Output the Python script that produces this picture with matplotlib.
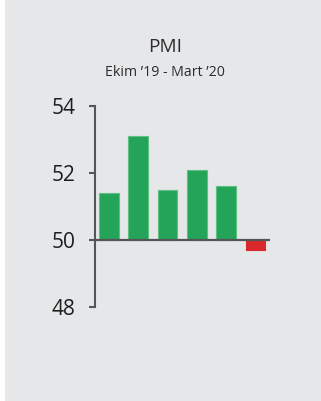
import matplotlib
matplotlib.use("Agg")
import matplotlib.pyplot as plt
from matplotlib.patches import Rectangle

months = ["Ekim", "Kasım", "Aralık", "Ocak", "Şubat", "Mart"]
pmi = [51.4, 53.1, 51.5, 52.1, 51.6, 49.7]
yticks = [48, 50, 52, 54]
title = "PMI"
subtitle = "Ekim \u201919 - Mart \u201920"

BG = "#e6e7e9"
GREEN = "#24a458"
RED = "#d9292a"
AX = "#555555"
TXT = "#2b2b2b"

plt.rcParams["font.family"] = ["Open Sans", "DejaVu Sans"]

W, H = 321, 401
fig = plt.figure(figsize=(W / 100, H / 100), dpi=100)
fig.patch.set_facecolor(BG)
fig.patches.append(Rectangle((0, 0), 5 / W, 1, transform=fig.transFigure,
                             facecolor="white", edgecolor="none", zorder=-1))

left, right = 95 / W, 270 / W
top, bottom = 1 - 106 / H, 1 - 307 / H
ax = fig.add_axes([left, bottom, right - left, top - bottom])
ax.set_facecolor("none")

x = list(range(len(pmi)))
base = 50
heights = [v - base for v in pmi]
colors = [GREEN if v >= base else RED for v in pmi]
edges = ["#5fc083" if v >= base else RED for v in pmi]
ax.bar(x, heights, bottom=base, width=0.67, color=colors, edgecolor=edges,
       linewidth=0.8, zorder=2)

ax.set_xlim(-0.478, 5.495)
ax.set_ylim(48, 54)
ax.set_yticks(yticks)
ax.set_yticklabels([str(t) for t in yticks], fontsize=15, color="#1e1e1e")
ax.set_xticks([])

ax.axhline(base, color=AX, linewidth=1.6, zorder=3)
for s in ["top", "right", "bottom"]:
    ax.spines[s].set_visible(False)
ax.spines["left"].set_color(AX)
ax.spines["left"].set_linewidth(1.5)
ax.tick_params(axis="y", direction="out", length=4.5, width=1.5, color=AX, pad=9.5)

fig.text(165 / W, 1 - 47 / H, title, ha="center", va="center",
         fontsize=13.7, color=TXT)
fig.text(165 / W, 1 - 73 / H, subtitle, ha="center", va="center",
         fontsize=10.2, color=TXT)

fig.savefig("out.png", dpi=100, facecolor=BG)
